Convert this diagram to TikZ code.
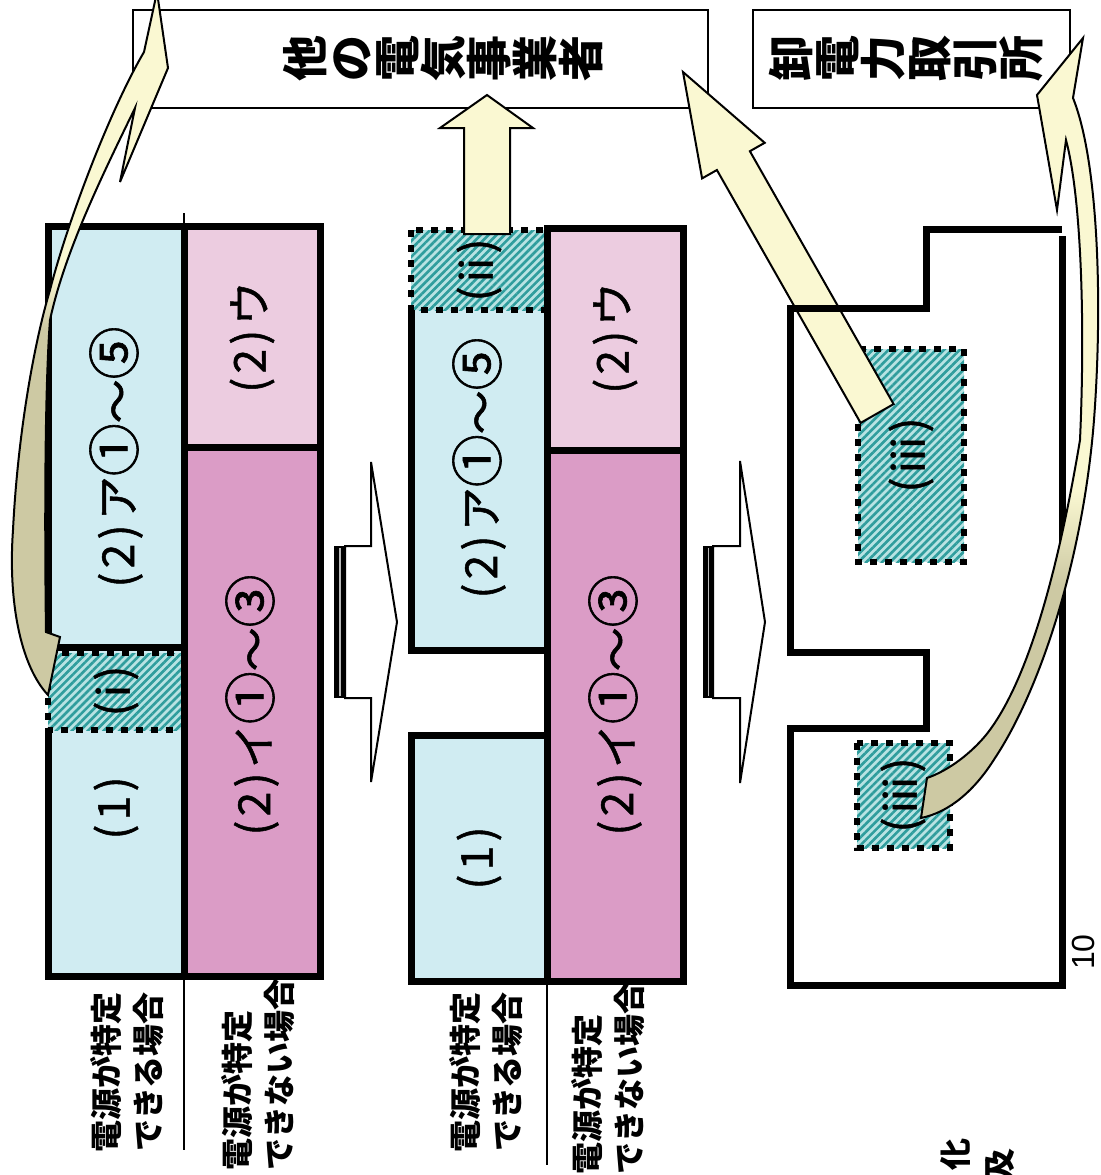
\documentclass[tikz,border=0pt]{standalone}
\usepackage{graphicx}
\usepackage{fontspec}
\setmainfont{Noto Sans CJK JP}
\newfontfamily\medjp[FakeBold=1.2]{Noto Sans CJK JP}
\newfontfamily\latsans{Liberation Sans}
\usetikzlibrary{patterns.meta}
\definecolor{lblue}{HTML}{D0ECF2}
\definecolor{lpink}{HTML}{ECCCE0}
\definecolor{mpink}{HTML}{DB9CC6}
\definecolor{tealbg}{HTML}{B8E3E3}
\definecolor{tealln}{HTML}{2F9D9D}
\definecolor{ayel}{HTML}{FAF8D2}
\definecolor{akhaki}{HTML}{CDC9A3}
\pgfdeclareverticalshading{shA}{100bp}{color(0bp)=(akhaki); color(51bp)=(akhaki); color(55bp)=(ayel); color(100bp)=(ayel)}
\pgfdeclareverticalshading{shB}{100bp}{color(0bp)=(akhaki); color(40bp)=(akhaki); color(46bp)=(ayel); color(100bp)=(ayel)}
\newcommand{\vglyph}[1]{\rotatebox{90}{\raisebox{0pt}[0.88em][0.12em]{#1}}}
\newcommand{\cn}[1]{\scalebox{1.2}{#1}}
\newcommand{\pn}[1]{(\hspace{0.1em}#1\hspace{0.1em})}
\begin{document}
\begin{tikzpicture}[x=0.5pt,y=-0.5pt,
  thk/.style={line width=3.5pt},
  thn/.style={line width=1pt},
  dotbox/.style={draw=black, line width=3.3pt, dash pattern=on 3.5pt off 4pt},
  hatch/.style={preaction={fill=tealbg}, preaction={pattern={Lines[angle=45,distance=2.8pt,line width=1.3pt]}, pattern color=tealln}},
  lbl/.style={rotate=90, inner sep=0pt, font=\medjp\fontsize{22}{26}\selectfont},
  sub/.style={rotate=90, inner sep=0pt, font=\fontsize{16}{21}\selectfont\bfseries},
  ttl/.style={inner sep=0pt, font=\fontsize{23}{23}\selectfont\bfseries},
  blk/.style={thn, draw=black, fill=white},
  yarr/.style={thn, draw=black, fill=ayel}]
\useasboundingbox (0,0) rectangle (1100,1175);
\clip (0,0) rectangle (1100,1175);
\fill[white] (0,0) rectangle (1100,1175);

% title boxes
\draw[thn] (133,10) rectangle (708,108);
\node[ttl] (t1) at (443,58) {\vglyph{他}\vglyph{の}\vglyph{電}\vglyph{気}\vglyph{事}\vglyph{業}\vglyph{者}};
\draw[thn] (753,10) rectangle (1070,108);
\node[ttl] (t2) at (906,58) {\vglyph{卸}\vglyph{電}\vglyph{力}\vglyph{取}\vglyph{引}\vglyph{所}};

% thin dividers
\draw[line width=1.2pt] (184,213) -- (184,1150);
\draw[line width=1.2pt] (547,981) -- (547,1165);

% panel 1
\fill[lblue] (48,226) rectangle (184,976);
\fill[lpink] (184,226) rectangle (320,447);
\fill[mpink] (184,447) rectangle (320,976);
\draw[dotbox, hatch] (48,653) rectangle (184,730);
\draw[thk] (184,647) -- (48,647) -- (48,226) -- (320,226) -- (320,976) -- (48,976) -- (48,730);
\draw[thk] (184,226) -- (184,976);
\draw[thk] (184,447) -- (320,447);
\node[lbl] (p1a) at (116,457) {\pn{2}\hspace{0.1em}ア\cn{①}～\cn{⑤}};
\node[lbl] (p1i) at (116,691) {\pn{i}};
\node[lbl] (p1one) at (116,808) {\pn{1}};
\node[lbl] (p1u) at (252,337) {\pn{2}\hspace{0.1em}ウ};
\node[lbl] (p1b) at (252,705) {\pn{2}\hspace{0.1em}イ\cn{①}～\cn{③}};

% panel 2
\fill[lblue] (411,310) rectangle (547,650);
\fill[lblue] (411,735) rectangle (547,981);
\fill[lpink] (547,228) rectangle (683,450);
\fill[mpink] (547,450) rectangle (683,981);
\draw[dotbox, hatch] (411,230) rectangle (547,310);
\draw[thk] (411,310) -- (411,650) -- (547,650);
\draw[thk] (411,735) rectangle (547,981);
\draw[thk] (547,228) rectangle (683,981);
\draw[thk] (547,450) -- (683,450);
\node[lbl] (p2ii) at (479,270) {\pn{ii}};
\node[lbl] (p2a) at (479,468) {\pn{2}\hspace{0.1em}ア\cn{①}～\cn{⑤}};
\node[lbl] (p2one) at (479,858) {\pn{1}};
\node[lbl] (p2u) at (615,338) {\pn{2}\hspace{0.1em}ウ};
\node[lbl] (p2b) at (615,705) {\pn{2}\hspace{0.1em}イ\cn{①}～\cn{③}};

% bottom labels
\node[sub, align=center] (L1) at (127,1072) {電源が特定\\できる場合};
\node[sub, align=left] (L2) at (258,1074) {電源が特定\\できない場合};
\node[sub, align=center] (L3) at (486,1072) {電源が特定\\できる場合};
\node[sub, align=left] (L4) at (608,1078) {電源が特定\\できない場合};

% striped block arrows
\fill (334,546) rectangle (345,698);
\draw[gray!55, line width=0.8pt] (340,548) -- (340,696);
\draw[blk] (345,546) -- (371,546) -- (371,462) -- (397,622) -- (371,782) -- (371,698) -- (345,698) -- cycle;
\fill (703,546) rectangle (713,698);
\draw[gray!55, line width=0.8pt] (708.5,548) -- (708.5,696);
\draw[blk] (713,546) -- (740,546) -- (740,461) -- (765,622) -- (740,783) -- (740,698) -- (713,698) -- cycle;

% panel 3 hatched boxes
\draw[dotbox, hatch] (858,349) rectangle (964,562);
\draw[dotbox, hatch] (857,743) rectangle (950,848);
\node[lbl] (p3a) at (911,455) {\pn{iii}};
\node[lbl] (p3b) at (903,795) {\pn{iii}};

% yellow block arrows
\draw[yarr] (683,72) -- (764.7,142.8) -- (749.9,151.2) -- (893.6,404.1) -- (860.6,422.9) -- (716.9,170.0) -- (702.1,178.4) -- cycle;
\draw[yarr] (464,234) -- (464,128) -- (440,128) -- (487,95) -- (533,128) -- (510,128) -- (510,234) -- cycle;

% panel 3 outline
\draw[thk] (1062,236) -- (1062,985) -- (790,985) -- (790,728) -- (926,728) -- (926,652) -- (790,652) -- (790,308) -- (926,308) -- (926,229) -- (1062,229);

% curved arrows
\path[shade, shading=shA, draw=black, thn]
  (157,-8) -- (168,68) -- (120,182) -- (135,108)
  .. controls (105,170) and (65,250) .. (50,320)
  .. controls (44,400) and (45,560) .. (46,632)
  -- (60,637) -- (48,695)
  .. controls (20,665) and (8,600) .. (13,530)
  .. controls (18,430) and (35,340) .. (50,290)
  .. controls (68,220) and (110,110) .. (144,52)
  -- cycle;
\path[shade, shading=shB, draw=black, thn]
  (1083,38) -- (1073,98)
  .. controls (1098,160) and (1103,300) .. (1094,420)
  .. controls (1083,560) and (1040,690) .. (995,758)
  .. controls (975,790) and (950,812) .. (921,818)
  -- (927,778)
  .. controls (950,770) and (972,752) .. (986,735)
  .. controls (1030,680) and (1060,560) .. (1080,440)
  .. controls (1085,330) and (1082,200) .. (1066,140)
  -- (1057,210) -- (1037,95) -- cycle;

% misc text
\node[rotate=90, inner sep=0pt, font=\latsans\fontsize{16}{16}\selectfont] (ten) at (1083,952) {10};
\node[rotate=90, anchor=east, inner sep=0pt, font=\fontsize{16}{16}\selectfont\bfseries] (ka) at (955,1138) {化};
\node[rotate=90, anchor=east, inner sep=0pt, font=\fontsize{16}{16}\selectfont\bfseries] (kyu) at (1000,1148) {及};
\end{tikzpicture}
\end{document}
